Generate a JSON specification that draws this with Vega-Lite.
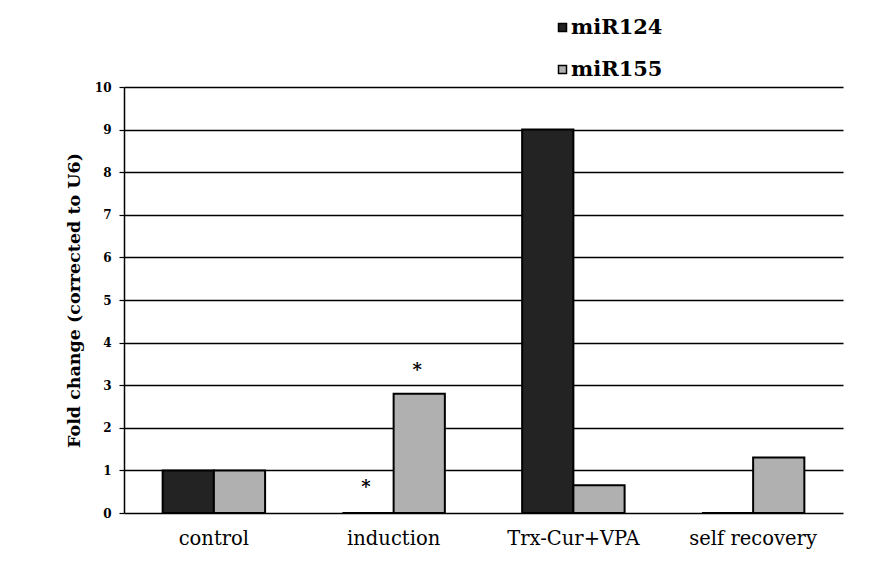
{
  "$schema": "https://vega.github.io/schema/vega-lite/v6.json",
  "width": 719,
  "height": 426,
  "autosize": {"type": "none"},
  "padding": {"left": 124, "top": 87, "right": 49, "bottom": 66},
  "background": "white",
  "config": {
    "font": "DejaVu Serif",
    "view": {"stroke": null}
  },
  "datasets": {
    "bars": [
      {"group": "control", "series": "miR124", "fold": 1.0},
      {"group": "control", "series": "miR155", "fold": 1.0},
      {"group": "induction", "series": "miR124", "fold": 0.0},
      {"group": "induction", "series": "miR155", "fold": 2.8},
      {"group": "Trx-Cur+VPA", "series": "miR124", "fold": 9.0},
      {"group": "Trx-Cur+VPA", "series": "miR155", "fold": 0.65},
      {"group": "self recovery", "series": "miR124", "fold": 0.0},
      {"group": "self recovery", "series": "miR155", "fold": 1.3}
    ],
    "stars": [
      {"group": "induction", "series": "miR124", "pos": 0.7, "mark": "*"},
      {"group": "induction", "series": "miR155", "pos": 3.45, "mark": "*"}
    ]
  },
  "layer": [
    {
      "data": {"name": "bars"},
      "mark": {"type": "bar", "stroke": "black", "strokeWidth": 2},
      "encoding": {
        "x": {
          "field": "group", "type": "nominal",
          "sort": ["control", "induction", "Trx-Cur+VPA", "self recovery"],
          "scale": {"paddingInner": 0.43, "paddingOuter": 0.215},
          "axis": {
            "title": null, "domain": false, "ticks": false, "labelAngle": 0,
            "labelFontSize": 19.5, "labelColor": "black", "labelPadding": 16,
            "labelFont": "DejaVu Serif"
          }
        },
        "xOffset": {
          "field": "series", "type": "nominal",
          "scale": {"paddingInner": 0, "paddingOuter": 0}
        },
        "y": {
          "field": "fold", "type": "quantitative",
          "scale": {"domain": [0, 10], "nice": false},
          "axis": {
            "title": "Fold change (corrected to U6)",
            "titleFont": "DejaVu Serif", "titleFontSize": 17.5, "titleFontWeight": "bold",
            "titleColor": "black", "titlePadding": 11,
            "values": [0, 1, 2, 3, 4, 5, 6, 7, 8, 9, 10],
            "labelFont": "DejaVu Serif", "labelFontSize": 12, "labelFontWeight": "bold",
            "labelColor": "black", "labelPadding": 8,
            "grid": true, "gridColor": "black", "gridWidth": 1.5, "gridOpacity": 1,
            "domainColor": "black", "domainWidth": 1.5,
            "tickColor": "black", "tickSize": 5, "tickWidth": 1.2
          }
        },
        "color": {
          "field": "series", "type": "nominal",
          "scale": {"domain": ["miR124", "miR155"], "range": ["#232323", "#b0b0b0"]},
          "legend": {
            "title": null, "orient": "none", "legendX": 428, "legendY": -70,
            "direction": "vertical", "symbolType": "square", "symbolSize": 64,
            "symbolStrokeColor": "black", "symbolStrokeWidth": 1.5,
            "labelFont": "DejaVu Serif", "labelFontSize": 21, "labelFontWeight": "bold",
            "labelColor": "black", "rowPadding": 20, "labelOffset": -2
          }
        }
      }
    },
    {
      "data": {"name": "stars"},
      "mark": {"type": "text", "fontSize": 18, "fontWeight": "bold", "baseline": "alphabetic", "dy": 10, "dx": -2, "color": "black"},
      "encoding": {
        "x": {"field": "group", "type": "nominal", "sort": ["control", "induction", "Trx-Cur+VPA", "self recovery"]},
        "xOffset": {"field": "series", "type": "nominal"},
        "y": {"field": "pos", "type": "quantitative"},
        "text": {"field": "mark"}
      }
    }
  ]
}
